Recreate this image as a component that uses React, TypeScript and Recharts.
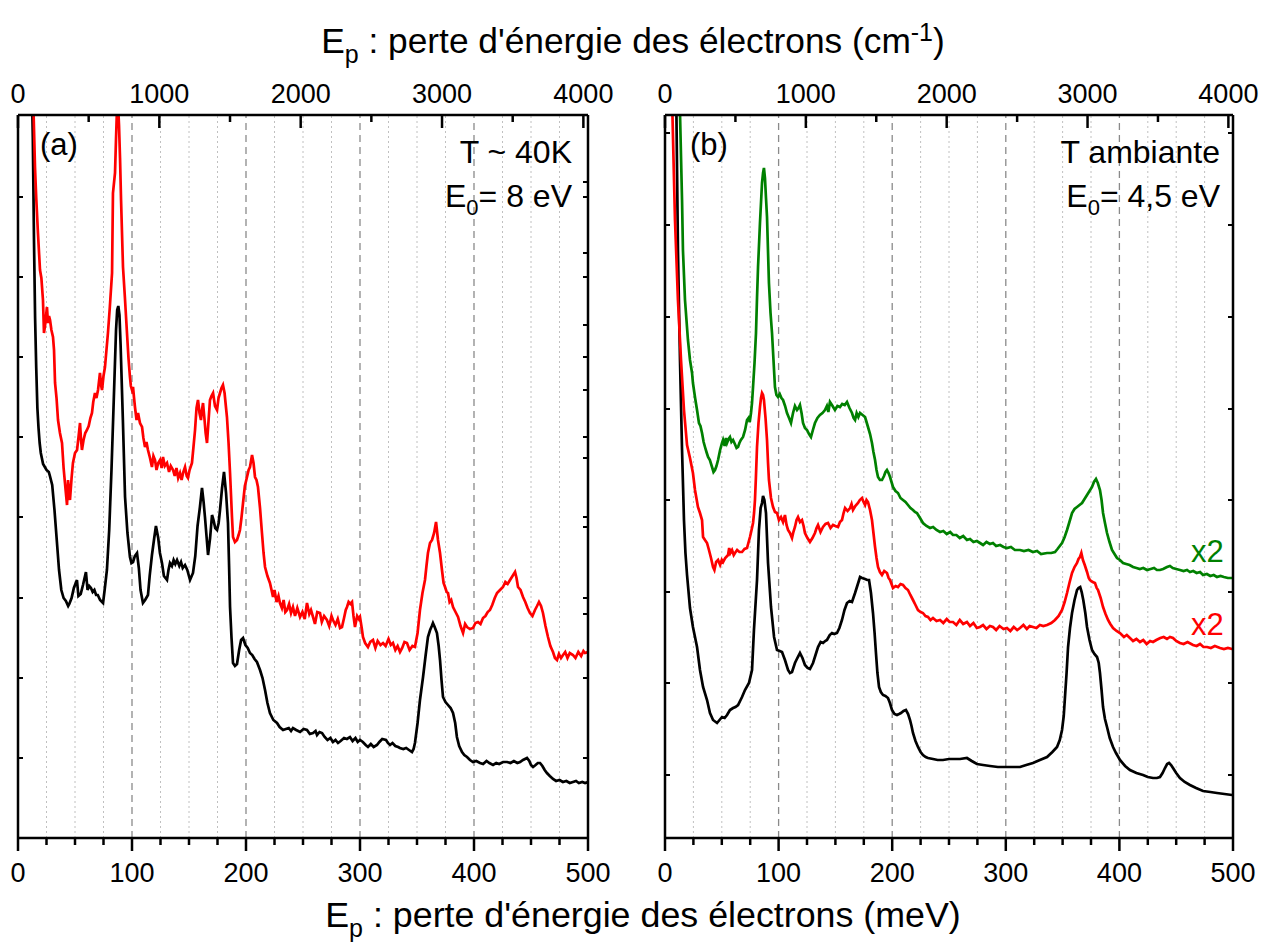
import React from 'react';
import { LineChart, Line, XAxis, YAxis, ReferenceLine } from 'recharts';

const FONT = '"Liberation Sans", Arial, Helvetica, sans-serif';
const MEV_TO_CM = 8.0655;

// axis ticks (meV bottom, cm-1 top)
const meVMajor = [0, 100, 200, 300, 400, 500];
const meVMinor = [25, 50, 75, 125, 150, 175, 225, 250, 275, 325, 350, 375, 425, 450, 475];
const cmMajor = [0, 1000, 2000, 3000, 4000];
const cmMinor = [500, 1500, 2500, 3500];
const dashedGrid = [100, 200, 300, 400];
const dottedGrid = meVMinor;

// unlabeled intensity ticks (arbitrary units)
const yTicksA = [80, 160, 240, 321, 401, 481, 561, 641];
const yTicksARight = [80, 160, 224, 240, 311, 321, 380, 401, 448, 481, 513, 561, 585, 641, 656];
const yTicksB = [63, 155, 246, 338, 429, 521, 613, 705];

// Panel (a) T ~ 40K, E0 = 8 eV : [energy loss meV, intensity a.u.]
const aBlack: [number, number][] = [
  [9, 900], [12, 760], [13, 700], [14, 600], [15, 520], [16, 470], [17, 430], [18, 410], [19, 395], [20, 385],
  [22, 374], [25, 368], [27, 366], [28, 362], [30, 353], [32, 328], [34, 298], [36, 268], [38, 248], [40, 240],
  [42, 237], [44, 232], [45, 234], [47, 240], [49, 250], [51.7, 258], [53, 242], [55, 244], [57, 253], [59.6, 266],
  [61, 248], [62.5, 252], [64, 250], [65.5, 246], [67, 248], [68.5, 243], [70, 243], [72, 238], [74.6, 235], [76, 248],
  [78, 268], [80, 308], [82, 368], [84, 438], [86, 508], [87, 528], [88, 532], [89, 523], [90, 493], [92, 418],
  [93.9, 341], [96, 305], [98.2, 281], [99.5, 275], [100.9, 276], [102.5, 282], [104.4, 285], [106, 270], [107.5, 248], [109.6, 235],
  [111.5, 238], [114, 243], [115.5, 262], [117.5, 283], [119.5, 300], [121, 312], [123, 300], [124.5, 285], [126.3, 275], [128, 262],
  [130.7, 258], [132, 268], [133.3, 275], [135, 272], [136.5, 278], [138, 274], [139.5, 278], [141.5, 272], [143, 276], [144.5, 270],
  [146.5, 273], [148.5, 268], [150.9, 258], [153.5, 265], [155.5, 282], [157.5, 312], [159.6, 331], [161.4, 350], [162.8, 336], [164, 321],
  [165.5, 300], [166.7, 283], [168.5, 300], [170.2, 323], [171.5, 318], [173, 310], [174.6, 308], [176, 315], [177.2, 328], [179, 350],
  [180.7, 366], [182.5, 345], [184.2, 315], [185.2, 270], [186, 231], [187.3, 200], [188.6, 175], [190.3, 172], [192.1, 174], [194, 188],
  [195.7, 198], [197.4, 200], [199.5, 193], [201.5, 190], [203.5, 185], [205.5, 183], [207.5, 179], [209.6, 176], [212.3, 168], [214.5, 160],
  [216.7, 148], [218.8, 135], [221, 125], [224, 118], [227.2, 115], [229.5, 111], [232.5, 108], [235, 109], [237.5, 110], [239.5, 107],
  [241.2, 110], [244, 108], [247.4, 106], [250.5, 109], [253.5, 108], [256, 104], [258.8, 105], [261, 107], [262.3, 103], [264.5, 106],
  [266.7, 105], [269, 101], [271.5, 98], [274, 100], [276.3, 96], [278.5, 98], [280.7, 95], [283, 97], [286, 100], [288.5, 99],
  [291.2, 101], [293.5, 97], [296, 100], [298, 96], [300, 98], [302.5, 96], [305, 93], [307, 91], [309.5, 94], [312, 91],
  [314.9, 93], [317, 96], [319.5, 99], [322.8, 98], [324.5, 95], [326.3, 93], [328.5, 95], [331, 92], [333.5, 91], [335, 90],
  [338, 89], [340.5, 90], [343, 88], [345.6, 86], [347, 89], [348.2, 95], [350.5, 115], [352.6, 138], [355.3, 161], [357.5, 182],
  [359.6, 201], [361.5, 208], [363, 212], [364, 215], [365.5, 211], [367.5, 205], [369, 192], [370.2, 178], [371.5, 158], [372.8, 141],
  [375, 136], [377.2, 133], [379.5, 130], [381.6, 125], [383.5, 115], [385, 101], [387, 92], [389.5, 86], [391.5, 83], [393.9, 81],
  [396.5, 78], [399.1, 76], [402, 77], [405.3, 75], [408, 74], [411, 77], [413.5, 75], [416.7, 73], [419.5, 75], [422, 74],
  [425.5, 76], [429, 76], [432, 75], [435, 77], [438, 75], [440.4, 76], [443, 78], [446.5, 80], [448.5, 77], [450, 73],
  [451.8, 71], [454, 73], [456, 75], [457.9, 75], [460, 72], [462, 68], [464, 65], [466.5, 62], [469.3, 59], [472, 57],
  [475, 58], [478, 56], [481, 57], [484, 55], [486.8, 56], [489.5, 57], [492, 55], [495, 56], [497.4, 55], [500, 56],
];

const aRed: [number, number][] = [
  [11, 900], [13.2, 745], [14.9, 671], [16, 640], [17.5, 605], [19.3, 568], [20.5, 560], [21.9, 538], [22.8, 505], [24, 515],
  [25.4, 531], [26.3, 515], [27.2, 522], [28.1, 518], [29.3, 508], [30.7, 501], [31.6, 488], [32.5, 455], [33.8, 440], [35.1, 418],
  [36.8, 405], [38.6, 395], [40, 370], [41.2, 355], [42, 345], [43, 333], [43.9, 358], [44.8, 345], [45.6, 338], [47, 360],
  [48.2, 375], [50, 385], [51.8, 388], [53, 400], [54.4, 415], [55.3, 398], [56.1, 388], [57.5, 398], [59, 405], [60.5, 408],
  [62, 412], [63.5, 420], [64.9, 425], [66, 436], [67.5, 445], [68.8, 440], [70.2, 448], [71.9, 465], [73, 452], [73.7, 448],
  [75, 462], [76.3, 471], [77.6, 488], [78.9, 505], [80.5, 530], [82.5, 565], [83.3, 645], [85.1, 665], [86, 700], [86.8, 728],
  [87.7, 735], [88.6, 713], [89.5, 680], [90.4, 638], [92.1, 571], [93.8, 540], [95.6, 505], [96.9, 480], [98.2, 461], [99, 452],
  [100, 448], [100.9, 451], [101.8, 440], [102.6, 431], [104, 418], [105.3, 425], [107, 415], [108.8, 411], [110, 400], [111.4, 391],
  [112.7, 396], [114, 388], [115.8, 380], [117.5, 371], [118.8, 382], [120.2, 378], [121.5, 368], [123, 375], [124.6, 378], [126, 370],
  [127.2, 381], [128.8, 372], [130.7, 375], [132.5, 366], [134, 372], [136, 368], [137.5, 362], [139, 370], [140.5, 360], [142.1, 365],
  [143.5, 358], [145, 366], [146.5, 371], [148, 362], [149.1, 360], [150.5, 368], [152.6, 375], [154, 392], [155.3, 408], [156.6, 430],
  [157.9, 438], [159.2, 425], [160.5, 418], [161.4, 428], [162.3, 435], [163.5, 420], [164.6, 405], [165.8, 395], [167, 415], [168.4, 438],
  [169.7, 442], [171.1, 445], [172.8, 432], [174.6, 428], [175.9, 440], [177.2, 445], [178.5, 450], [179.8, 453], [181.2, 445], [182.5, 430],
  [183.3, 421], [184.7, 395], [186, 365], [187.7, 321], [188.6, 301], [190.3, 296], [192.1, 298], [193.5, 303], [194.7, 308], [196, 320],
  [197.4, 335], [199, 352], [200.9, 361], [202.3, 368], [203.5, 371], [205.3, 383], [206.6, 375], [207.9, 361], [209.2, 358], [210.5, 351],
  [212.3, 330], [214, 305], [215.4, 285], [216.7, 271], [218.8, 262], [221, 255], [222.4, 248], [223.7, 241], [225, 248], [226.8, 236],
  [228.5, 242], [229.8, 235], [231.5, 230], [233, 238], [234.5, 226], [236, 228], [237.8, 234], [239.5, 225], [241.2, 231], [243, 222],
  [245, 230], [247.4, 221], [249.5, 226], [251.5, 219], [253.5, 235], [255.5, 224], [257, 228], [258.8, 221], [260.5, 214], [262.5, 226],
  [264.9, 225], [266.5, 216], [268.5, 222], [271, 218], [273, 212], [275, 222], [276.3, 218], [278.5, 213], [280.5, 219], [282.5, 210],
  [284.2, 211], [286, 220], [287.5, 228], [288.6, 231], [290, 236], [291.5, 234], [293, 236], [294.3, 222], [295.6, 211], [297.5, 222],
  [299, 219], [300, 221], [301.5, 210], [302.6, 201], [304.5, 195], [307, 191], [309, 196], [311.4, 198], [313.5, 190], [315.5, 197],
  [318, 193], [320.2, 195], [322.5, 192], [325, 199], [327, 193], [328.9, 195], [331, 188], [333, 192], [335.1, 186], [337, 190],
  [339, 196], [341.2, 195], [343.5, 188], [346, 192], [348.2, 191], [350.5, 205], [352.6, 228], [354.8, 245], [357, 258], [358.3, 272],
  [359.6, 285], [361.4, 295], [363.2, 298], [365, 305], [366.7, 316], [368.4, 298], [370.2, 285], [371.9, 268], [373.3, 255], [374.6, 251],
  [376, 246], [377.2, 245], [378.6, 236], [380, 238], [381.6, 231], [383.8, 226], [386, 221], [388.2, 212], [390.4, 205], [392.2, 214],
  [393.9, 211], [396.5, 209], [399.1, 210], [401.3, 215], [403.5, 216], [405.7, 214], [407.9, 220], [410, 222], [412, 226], [414, 228],
  [416, 233], [418.2, 240], [420.2, 245], [422.8, 248], [425.4, 251], [427.5, 256], [429.5, 254], [431.6, 258], [433.8, 262], [436, 266],
  [437.3, 260], [438.6, 251], [440.8, 248], [443, 241], [445, 236], [447, 230], [449.1, 225], [451.3, 222], [453.5, 228], [455.3, 232],
  [457, 236], [458.8, 232], [460.5, 225], [462.7, 212], [464.9, 201], [467, 192], [469.3, 186], [471, 180], [472.8, 178], [474.5, 184],
  [476.3, 180], [478.1, 183], [480, 186], [482, 180], [484, 185], [486.8, 183], [489, 180], [491.5, 186], [494, 182], [496, 187],
  [497.4, 185], [500, 186],
];

// Panel (b) T ambiante, E0 = 4,5 eV
const bBlack: [number, number][] = [
  [7, 900], [9.7, 760], [11.4, 588], [13.2, 478], [15, 388], [16.7, 318], [18, 285], [19.4, 263], [22, 230], [24.6, 211],
  [28.2, 191], [30.8, 168], [33.5, 151], [37, 138], [39.6, 125], [42.3, 118], [45.8, 115], [48, 118], [50.2, 121], [52.5, 120],
  [54.6, 123], [57.2, 128], [59.9, 130], [62, 131], [64.3, 133], [67.8, 141], [70.4, 148], [73.9, 155], [76.6, 168], [78.3, 208],
  [81, 258], [82.7, 308], [84.2, 330], [85.4, 335], [86.3, 342], [87.5, 338], [88.9, 325], [90.7, 275], [93.3, 231], [96, 201],
  [98.6, 188], [101, 187], [103, 186], [105.6, 178], [108.3, 168], [110, 165], [111.8, 166], [114.4, 175], [116.5, 180], [118.8, 185],
  [121, 180], [123.2, 173], [125.5, 170], [127.6, 169], [130.3, 175], [132.5, 183], [134.7, 191], [137, 196], [139.1, 195], [141, 197],
  [142.6, 198], [145, 203], [147, 205], [149, 204], [151.4, 205], [153.5, 210], [155.8, 218], [158, 228], [160.2, 235], [162.5, 237],
  [164.6, 236], [167.3, 245], [169.5, 253], [171.7, 261], [173.5, 260], [176.1, 259], [178, 258], [179.6, 258], [181.3, 245], [183.1, 225],
  [184.5, 205], [185.7, 185], [187, 165], [188.4, 151], [190, 146], [191.9, 143], [194, 142], [196.3, 140], [198, 135], [199.8, 128],
  [202, 124], [204.2, 123], [206, 124], [207.7, 125], [210, 127], [212.1, 128], [214, 124], [215.7, 118], [217, 112], [218.3, 105],
  [220.5, 97], [222.7, 91], [225, 86], [227.1, 83], [229.5, 81], [231.5, 80], [235.9, 79], [240, 78], [244.7, 78], [250, 79],
  [255, 79], [259.7, 79], [265.8, 80], [270, 77], [274.6, 74], [280, 73], [286.1, 72], [293, 71], [301, 71], [307, 71],
  [312.5, 71], [318, 73], [323.9, 75], [330, 78], [336.3, 81], [341, 86], [345.1, 91], [347.5, 98], [349.5, 108], [351, 122],
  [352.1, 141], [353.5, 165], [354.8, 191], [356.5, 210], [358.3, 225], [360.5, 238], [362.7, 248], [364, 250], [365.5, 251], [366.8, 246],
  [368.2, 238], [370, 225], [371.5, 211], [373.7, 198], [375.9, 188], [378, 184], [380.3, 181], [381.8, 175], [382.9, 165], [384.3, 148],
  [385.6, 131], [387.3, 119], [389.1, 111], [391.5, 100], [394.4, 91], [397, 85], [400.5, 78], [405, 72], [409.3, 68], [415, 65],
  [420.8, 63], [425, 61], [429.6, 60], [433, 60], [435.7, 61], [438, 65], [440.1, 70], [442, 74], [443.7, 75], [445.5, 73],
  [447.2, 70], [450, 65], [453.3, 60], [457.5, 56], [462.1, 53], [467.5, 50], [473.6, 47], [480, 46], [485.9, 45], [492.5, 44],
  [499.1, 43], [500, 43],
];

const bRed: [number, number][] = [
  [4, 900], [6.2, 740], [8.8, 618], [11.4, 538], [14.1, 478], [16.7, 428], [19.4, 393], [22, 380], [24.6, 365], [26.4, 348],
  [29, 331], [30.8, 325], [32.6, 318], [33.5, 301], [35.2, 298], [37, 295], [38.7, 288], [40.5, 280], [42.3, 271], [43.5, 268],
  [45, 276], [46.7, 278], [48.5, 273], [50, 278], [51.1, 276], [53, 280], [55.5, 283], [56.5, 290], [57.5, 285], [59, 288],
  [60.5, 283], [61.6, 285], [63.5, 288], [65.5, 286], [67.8, 286], [70, 289], [72.2, 290], [74.8, 301], [76.2, 308], [77.5, 315],
  [78.4, 325], [79.2, 338], [80, 360], [81, 391], [82.3, 415], [83.6, 431], [84.5, 440], [85.4, 445], [86.3, 443], [87.1, 438],
  [88.5, 420], [89.8, 398], [90.7, 375], [91.5, 358], [93.3, 340], [95.1, 331], [96.8, 326], [98.6, 325], [100.3, 318], [102.1, 321],
  [103.9, 316], [105.6, 323], [107, 313], [108.3, 308], [110, 305], [111.8, 300], [113, 306], [114.4, 311], [115.8, 318], [117.1, 321],
  [118.8, 316], [120.6, 318], [122, 312], [123.2, 305], [125.4, 300], [127.6, 296], [129.8, 300], [132, 305], [133.4, 310], [134.7, 313],
  [136.9, 306], [139.1, 311], [141.3, 314], [143.5, 315], [145.7, 310], [147.9, 313], [150, 312], [152.3, 311], [154, 316], [155.8, 318],
  [157.2, 325], [158.5, 330], [160.7, 327], [162.9, 330], [164.2, 334], [165.5, 328], [167.5, 332], [169.9, 335], [171.5, 338], [173.4, 340],
  [174.8, 336], [176.1, 333], [177.4, 338], [178.7, 336], [180.5, 328], [182.2, 318], [183.5, 305], [184.9, 291], [186.2, 280], [187.5, 271],
  [189.2, 266], [191, 263], [193, 267], [195.4, 265], [196.8, 260], [198.1, 258], [199.4, 254], [200.7, 250], [203, 252], [205.1, 251],
  [207.3, 254], [209.5, 253], [211.7, 250], [213.9, 248], [216, 243], [218.3, 238], [220.5, 233], [222.7, 228], [225, 226], [227.1, 225],
  [229.3, 222], [231.5, 221], [233.7, 218], [235.9, 220], [239, 217], [242.1, 218], [245, 215], [248, 219], [250.5, 216], [253.5, 216],
  [256.5, 213], [259.5, 218], [262.5, 214], [265.8, 216], [268.5, 212], [271.5, 215], [274.5, 210], [277.3, 211], [280, 213], [283, 209],
  [286, 212], [288.7, 211], [291.5, 208], [294.5, 212], [298, 209], [301, 210], [304, 207], [307, 211], [310, 208], [312.5, 210],
  [315.5, 213], [318.5, 209], [321, 212], [323.9, 211], [327, 210], [330, 213], [333, 212], [336.3, 213], [340, 215], [343.3, 218],
  [346.5, 222], [349.5, 228], [351.8, 236], [353.9, 245], [356, 255], [358.3, 265], [360.5, 271], [362.7, 275], [364, 279], [365.3, 281],
  [366.5, 285], [367.9, 278], [369.5, 273], [371.5, 266], [373, 260], [374.1, 258], [376.5, 256], [378.5, 255], [380, 250], [381.2, 248],
  [383.5, 240], [385.6, 231], [387.8, 224], [390, 218], [392, 214], [394.4, 210], [397.5, 207], [400.5, 205], [404, 201], [406.5, 203],
  [409.3, 200], [412, 197], [415, 199], [418.1, 196], [421, 198], [424, 194], [427, 197], [429.6, 196], [432.5, 198], [436, 200],
  [439, 201], [441.9, 199], [444.5, 201], [447.2, 200], [450, 197], [453.3, 195], [456.5, 194], [460, 196], [464.8, 193], [468, 192],
  [471, 194], [474, 191], [477.1, 191], [480.5, 190], [484, 192], [488.6, 190], [492, 189], [495.5, 190], [499.1, 189], [500, 189],
];

const bGreen: [number, number][] = [
  [10, 900], [12.3, 760], [13.2, 725], [15, 638], [15.8, 588], [17.6, 538], [20.2, 498], [22, 478], [23.8, 465], [24.6, 455],
  [26.5, 440], [28.2, 428], [29.9, 415], [31.2, 412], [32.6, 405], [34, 396], [35.2, 391], [36.5, 386], [37.9, 381], [39.5, 378],
  [41.4, 371], [42.7, 366], [44, 368], [45.3, 372], [46.7, 378], [48.5, 388], [50.2, 395], [51.1, 398], [52.5, 392], [53.6, 400],
  [54.6, 395], [56, 399], [57.2, 401], [58.5, 396], [59.9, 398], [61.5, 394], [63, 390], [64.3, 391], [65.5, 395], [66.8, 398],
  [68.7, 401], [70.5, 408], [72.2, 418], [73.5, 420], [74.6, 416], [75.7, 425], [76.6, 435], [77.5, 451], [78.8, 475], [80.1, 505],
  [81, 540], [81.9, 571], [83.6, 615], [85.4, 655], [86.3, 665], [87.1, 670], [88, 660], [88.9, 640], [89.8, 621], [91.5, 555],
  [92.9, 525], [94.2, 505], [95.5, 478], [96.8, 451], [98.1, 443], [99.5, 441], [101, 444], [102.5, 440], [103.9, 438], [105.7, 432],
  [107.4, 425], [109.2, 420], [110.9, 415], [112.7, 425], [114.4, 432], [116.2, 428], [117.5, 430], [118.8, 433], [120.2, 425], [121.5, 415],
  [123.2, 410], [125, 408], [126.8, 404], [128.5, 401], [130.2, 408], [132, 415], [134.2, 420], [136.4, 423], [138.6, 425], [140.8, 428],
  [142.5, 432], [143.8, 426], [145.2, 436], [147.5, 432], [149.6, 428], [151.8, 432], [154, 431], [156, 434], [158.2, 433], [160.2, 436],
  [162.4, 430], [164.6, 425], [166, 420], [167.3, 418], [168.7, 425], [170.2, 421], [171.7, 425], [173.9, 423], [176.1, 421], [177.4, 416],
  [178.7, 411], [180.5, 404], [182.2, 395], [183.5, 386], [184.9, 378], [186.2, 368], [187.5, 361], [189.2, 358], [191, 358], [192.8, 362],
  [194.1, 366], [195.4, 368], [196.8, 365], [198.1, 361], [199.4, 356], [200.7, 351], [202.9, 347], [205.1, 345], [207.3, 340], [209.5, 338],
  [211.7, 336], [213.9, 333], [216.1, 330], [218.3, 328], [220, 326], [221.8, 325], [224.5, 320], [227.1, 315], [230.2, 312], [233.3, 310],
  [236, 311], [239, 308], [242.1, 306], [245, 307], [248, 304], [251, 306], [253.5, 303], [256.5, 303], [259.5, 300], [262.5, 302],
  [265.8, 298], [268.5, 299], [271.5, 296], [274.5, 297], [277.3, 295], [280, 293], [283, 296], [286, 294], [288.7, 295], [291.5, 292],
  [295, 293], [298, 291], [301, 290], [304.5, 291], [308, 288], [312.5, 288], [316, 287], [320, 288], [323.9, 286], [327.5, 287],
  [331, 284], [336.3, 285], [340, 285], [343.3, 286], [345.5, 289], [347.5, 292], [349.5, 295], [351.8, 301], [353.9, 308], [356, 316],
  [358.3, 325], [360.5, 329], [362.7, 331], [364.9, 333], [367.1, 335], [369.3, 339], [371.5, 343], [373.7, 347], [375.9, 351], [377.6, 356],
  [379.4, 359], [381, 355], [382.9, 348], [384.3, 338], [385.6, 325], [387.3, 315], [389.1, 305], [391.3, 296], [393.5, 288], [395.7, 284],
  [397.9, 280], [400.5, 278], [403.2, 275], [406, 274], [409, 273], [412, 271], [415, 270], [418, 269], [421, 270], [424.3, 268],
  [427.5, 269], [430.5, 270], [433, 268], [435.7, 268], [438.5, 269], [441.9, 271], [444.5, 272], [447, 270], [450, 269], [453.3, 268],
  [456.5, 267], [459.5, 268], [462.1, 266], [465, 267], [468, 265], [471, 266], [473.6, 263], [477, 264], [480, 262], [483, 263],
  [485.9, 261], [489, 262], [492, 261], [495.5, 260], [499.1, 260], [500, 260],
];

const BLACK = '#000000';
const RED = '#ff0000';
const GREEN = '#008000';

const toPts = (arr: [number, number][]) => arr.map(([e, v]) => ({ e, v }));

const BottomTick = (props: any) => {
  const { x, y, payload } = props;
  const v = payload.value;
  const major = meVMajor.includes(v);
  return (
    <g>
      <line x1={x} y1={y} x2={x} y2={y + (major ? 13 : 7)} stroke="#000" strokeWidth={2.5} />
      {major && (
        <text x={x} y={y + 44} textAnchor="middle" fontSize={27} fontFamily={FONT} fill="#000">
          {v}
        </text>
      )}
    </g>
  );
};

const TopTick = (props: any) => {
  const { x, y, payload } = props;
  const cm = Math.round(payload.value * MEV_TO_CM);
  const major = cmMajor.includes(cm);
  return (
    <g>
      <line x1={x} y1={y} x2={x} y2={y + (major ? 13 : 7)} stroke="#000" strokeWidth={2.5} />
      {major && (
        <text x={x} y={y - 12} textAnchor="middle" fontSize={27} fontFamily={FONT} fill="#000">
          {cm}
        </text>
      )}
    </g>
  );
};

const LeftTick = (props: any) => {
  const { x, y } = props;
  return <line x1={x} y1={y} x2={x + 5} y2={y} stroke="#000" strokeWidth={2} />;
};

const RightTick = (props: any) => {
  const { x, y } = props;
  return <line x1={x} y1={y} x2={x - 5} y2={y} stroke="#000" strokeWidth={2} />;
};

type SeriesDef = { pts: [number, number][]; color: string; name: string };

function Panel(props: {
  left: number;
  width: number;
  marginLeft: number;
  marginRight: number;
  series: SeriesDef[];
  yl: number[];
  yr: number[];
}) {
  const { left, width, marginLeft, marginRight, series, yl, yr } = props;
  const bottomTicks = [...meVMajor, ...meVMinor].sort((a, b) => a - b);
  const topTicks = [...cmMajor, ...cmMinor].sort((a, b) => a - b).map((c) => c / MEV_TO_CM);
  const axisLine = { stroke: '#000', strokeWidth: 2.5 };
  return (
    <div style={{ position: 'absolute', left, top: 0 }}>
      <LineChart
        width={width}
        height={944}
        margin={{ top: 114, bottom: 105, left: marginLeft - 1, right: marginRight - 1 }}
        style={{ overflow: 'visible' }}
      >
        <XAxis
          xAxisId="b"
          type="number"
          dataKey="e"
          domain={[0, 500]}
          allowDataOverflow
          ticks={bottomTicks}
          interval={0}
          height={1}
          tickSize={0}
          tickMargin={0}
          tickLine={false}
          axisLine={axisLine}
          tick={(p: any) => <BottomTick {...p} />}
        />
        <XAxis
          xAxisId="t"
          orientation="top"
          type="number"
          dataKey="e"
          domain={[0, 500]}
          allowDataOverflow
          ticks={topTicks}
          interval={0}
          height={1}
          tickSize={0}
          tickMargin={0}
          tickLine={false}
          axisLine={axisLine}
          tick={(p: any) => <TopTick {...p} />}
        />
        <YAxis
          yAxisId="l"
          type="number"
          domain={[0, 723]}
          allowDataOverflow
          ticks={yl}
          interval={0}
          width={1}
          tickSize={0}
          tickMargin={0}
          tickLine={false}
          axisLine={axisLine}
          tick={(p: any) => <LeftTick {...p} />}
        />
        <YAxis
          yAxisId="r"
          orientation="right"
          type="number"
          domain={[0, 723]}
          allowDataOverflow
          ticks={yr}
          interval={0}
          width={1}
          tickSize={0}
          tickMargin={0}
          tickLine={false}
          axisLine={axisLine}
          tick={(p: any) => <RightTick {...p} />}
        />
        {dottedGrid.map((g) => (
          <ReferenceLine
            key={'m' + g}
            x={g}
            xAxisId="b"
            yAxisId="l"
            stroke="#c0c0c0"
            strokeDasharray="2 3"
            strokeWidth={1}
          />
        ))}
        {dashedGrid.map((g) => (
          <ReferenceLine
            key={'d' + g}
            x={g}
            xAxisId="b"
            yAxisId="l"
            stroke="#8a8a8a"
            strokeDasharray="7 5"
            strokeWidth={1.3}
          />
        ))}
        {series.map((s, i) => (
          <Line
            key={s.name}
            name={s.name}
            data={toPts(s.pts)}
            dataKey="v"
            type="linear"
            xAxisId={i % 2 === 0 ? 'b' : 't'}
            yAxisId={i % 2 === 0 ? 'l' : 'r'}
            stroke={s.color}
            strokeWidth={2.7}
            dot={false}
            activeDot={false}
            isAnimationActive={false}
          />
        ))}
      </LineChart>
    </div>
  );
}

export default function App() {
  return (
    <div
      style={{
        position: 'absolute',
        left: 0,
        top: 0,
        width: 1276,
        height: 944,
        background: '#fff',
        overflow: 'hidden',
        fontFamily: FONT,
      }}
    >
      <Panel
        left={0}
        width={620}
        marginLeft={18}
        marginRight={32}
        yl={yTicksA}
        yr={yTicksARight}
        series={[
          { pts: aBlack, color: BLACK, name: 'a-40K-black' },
          { pts: aRed, color: RED, name: 'a-40K-red' },
        ]}
      />
      <Panel
        left={640}
        width={636}
        marginLeft={25}
        marginRight={43}
        yl={yTicksB}
        yr={yTicksB}
        series={[
          { pts: bBlack, color: BLACK, name: 'b-black' },
          { pts: bRed, color: RED, name: 'b-red-x2' },
          { pts: bGreen, color: GREEN, name: 'b-green-x2' },
        ]}
      />
      <svg
        width={1276}
        height={944}
        style={{ position: 'absolute', left: 0, top: 0, pointerEvents: 'none' }}
        fontFamily={FONT}
      >
        <text x={633} y={53} fontSize={35.3} textAnchor="middle" fill="#000">
          E<tspan dy={10} fontSize={25}>p</tspan>
          <tspan dy={-10}> : perte d'énergie des électrons (cm</tspan>
          <tspan dy={-12} fontSize={25}>-1</tspan>
          <tspan dy={12}>)</tspan>
        </text>
        <text x={643} y={927} fontSize={35.8} textAnchor="middle" fill="#000">
          E<tspan dy={10} fontSize={25}>p</tspan>
          <tspan dy={-10}> : perte d'énergie des électrons (meV)</tspan>
        </text>
        <text x={40} y={155} fontSize={31} fill="#000">(a)</text>
        <text x={572} y={163} fontSize={32} textAnchor="end" fill="#000">T ~ 40K</text>
        <text x={572} y={207} fontSize={32} textAnchor="end" fill="#000">
          E<tspan dy={8} fontSize={22}>0</tspan>
          <tspan dy={-8}>= 8 eV</tspan>
        </text>
        <text x={690} y={155} fontSize={31} fill="#000">(b)</text>
        <text x={1220} y={163} fontSize={32} textAnchor="end" fill="#000">T ambiante</text>
        <text x={1220} y={207} fontSize={32} textAnchor="end" fill="#000">
          E<tspan dy={8} fontSize={22}>0</tspan>
          <tspan dy={-8}>= 4,5 eV</tspan>
        </text>
        <text x={1191} y={562} fontSize={31} fill={GREEN}>x2</text>
        <text x={1191} y={635} fontSize={31} fill={RED}>x2</text>
      </svg>
    </div>
  );
}
